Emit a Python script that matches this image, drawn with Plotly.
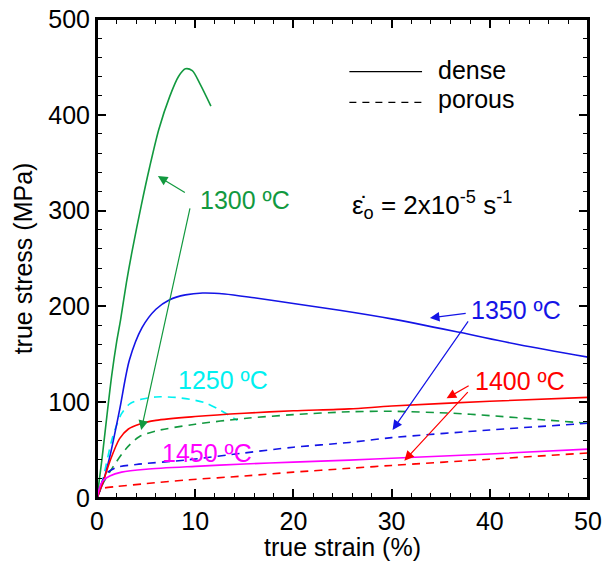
import plotly.graph_objects as go

# ---- data (true strain %, true stress MPa) ----
d1300_x = [0, 0.5, 1, 1.5, 2, 2.4, 3, 3.6, 4.5, 5.35, 6.3, 7.4, 8.3, 9, 9.7, 10.5, 11.6]
d1300_y = [0, 40, 85, 128, 163, 186, 225, 259, 305, 345, 385, 419, 440, 448, 446, 432, 409]

d1350_x = [0, 0.6, 1.3, 2.3, 3.3, 4.6, 6, 7.4, 9, 10.75, 13, 16, 20, 24.7, 30, 36.9, 43, 50]
d1350_y = [0, 16, 43, 92, 144, 178, 197, 207, 212, 214, 213, 209, 203, 196, 187, 173, 160, 147]

d1400_x = [0, 0.3, 0.6, 1.3, 2.3, 3.2, 4.3, 6, 10, 15, 20, 25.7, 30, 40, 50]
d1400_y = [0, 8, 16, 38, 62, 72, 77, 81, 85, 88.5, 91, 93, 96, 101, 105]

d1450_x = [0, 0.3, 0.6, 1.3, 2.5, 5, 10, 15, 20, 25.7, 30, 40, 50]
d1450_y = [0, 12, 18, 23, 27, 30, 33, 35.5, 37.5, 39.5, 41.5, 46, 51]

p1250_x = [0, 0.6, 1.6, 2.5, 3.3, 4.5, 6, 8, 10, 11.1, 12.5, 14.3]
p1250_y = [0, 20, 64, 88, 98, 103, 105.5, 105, 102, 99, 92, 81]

p1300_x = [0, 0.6, 1.6, 3, 4.3, 6, 10, 15, 20, 25.7, 30, 36.2, 40, 45, 50]
p1300_y = [0, 15, 32, 52, 64, 70, 77, 83, 87, 90, 90.5, 88.5, 86, 82, 78]

p1350_x = [0, 0.3, 0.6, 1, 2, 4, 9.4, 15, 20, 25.7, 30, 40, 50]
p1350_y = [0, 10, 19, 26, 32, 35, 40, 47, 53, 58, 63, 71, 78]

p1400_x = [0, 0.3, 0.6, 2, 5, 9.4, 15, 20, 25.7, 30, 40, 50]
p1400_y = [0, 8, 10, 12, 15, 19, 23, 27, 31, 34, 40.5, 47]

GREEN = "#12993f"
BLUE = "#1414e6"
RED = "#ff0000"
MAG = "#ff00ff"
CYAN = "#00f0f0"

FONT = "Liberation Sans, Arial, sans-serif"
FS = 25
DASH = "8px,6px"

fig = go.Figure()

def add(x, y, color, dash=None):
    fig.add_trace(go.Scatter(
        x=x, y=y, mode="lines", showlegend=False, hoverinfo="skip",
        line=dict(color=color, width=1.6, dash=dash or "solid",
                  shape="spline", smoothing=0.8)))

add(p1250_x, p1250_y, CYAN, DASH)
add(p1300_x, p1300_y, GREEN, DASH)
add(p1350_x, p1350_y, BLUE, DASH)
add(p1400_x, p1400_y, RED, DASH)
add(d1300_x, d1300_y, GREEN)
add(d1350_x, d1350_y, BLUE)
add(d1400_x, d1400_y, RED)
add(d1450_x, d1450_y, MAG)

anns = []
def label(text, x, y, color, xanchor="left"):
    anns.append(dict(x=x, y=y, xref="x", yref="y", text=text, showarrow=False,
                     xanchor=xanchor, yanchor="middle",
                     font=dict(family=FONT, size=FS, color=color)))

def arrow(x0, y0, x1, y1, color):
    anns.append(dict(x=x1, y=y1, ax=x0, ay=y0, xref="x", yref="y",
                     axref="x", ayref="y", text="", showarrow=True,
                     arrowhead=2, arrowsize=1.6, arrowwidth=1.2,
                     arrowcolor=color))

label("1300 ºC", 10.3, 311, GREEN)
arrow(9.1, 318, 6.2, 336, GREEN)
arrow(9.5, 304, 4.5, 71, GREEN)

label("1350 ºC", 37.9, 196, BLUE)
arrow(37.7, 193, 33.9, 188, BLUE)
arrow(37.9, 186, 30.1, 71, BLUE)

label("1400 ºC", 38.3, 122, RED)
arrow(38.0, 118, 35.6, 104, RED)
arrow(37.9, 112, 31.3, 39, RED)

label("1250 ºC", 12.8, 123, CYAN, "center")
label("1450 ºC", 11.2, 47, MAG, "center")

# strain-rate note
anns.append(dict(x=25.8, y=306, xref="x", yref="y", xanchor="left", yanchor="middle",
                 text="ε̇<sub>o</sub> = 2x10<sup>-5</sup> s<sup>-1</sup>",
                 showarrow=False, font=dict(family=FONT, size=26, color="black")))

# legend (line samples + text)
shapes = [
    dict(type="line", xref="x", yref="y", x0=25.7, x1=33.1, y0=445, y1=445,
         line=dict(color="black", width=1.3)),
    dict(type="line", xref="x", yref="y", x0=25.7, x1=33.1, y0=413, y1=413,
         line=dict(color="black", width=1.3, dash="7px,6px")),
    dict(type="rect", xref="paper", yref="paper", x0=0, x1=1, y0=0, y1=1,
         line=dict(color="black", width=2), layer="above"),
]
anns.append(dict(x=34.5, y=447, xref="x", yref="y", xanchor="left", yanchor="middle",
                 text="dense", showarrow=False, font=dict(family=FONT, size=FS, color="black")))
anns.append(dict(x=34.5, y=416, xref="x", yref="y", xanchor="left", yanchor="middle",
                 text="porous", showarrow=False, font=dict(family=FONT, size=FS, color="black")))

axis_common = dict(showgrid=False, zeroline=False, showline=True, linecolor="black",
                   linewidth=2, mirror="allticks", ticks="inside", ticklen=9,
                   tickwidth=1.5, tickcolor="black", automargin=False,
                   ticklabeloverflow="allow",
                   tickfont=dict(family=FONT, size=FS, color="black"))

fig.update_layout(
    width=595, height=553,
    margin=dict(l=89, r=15, t=11, b=63),
    paper_bgcolor="white", plot_bgcolor="white",
    xaxis=dict(range=[0, 50], dtick=10,
               minor=dict(dtick=2, ticks="inside", ticklen=5, tickwidth=1.2, tickcolor="black"),
               title=dict(text="true strain (%)", font=dict(family=FONT, size=FS, color="black"),
                          standoff=3),
               **axis_common),
    yaxis=dict(range=[0, 500], dtick=100,
               minor=dict(dtick=20, ticks="inside", ticklen=5, tickwidth=1.2, tickcolor="black"),
               title=dict(text="true stress (MPa)", font=dict(family=FONT, size=FS, color="black"),
                          standoff=9),
               **axis_common),
    annotations=anns, shapes=shapes,
)

fig.write_html("out.html")
